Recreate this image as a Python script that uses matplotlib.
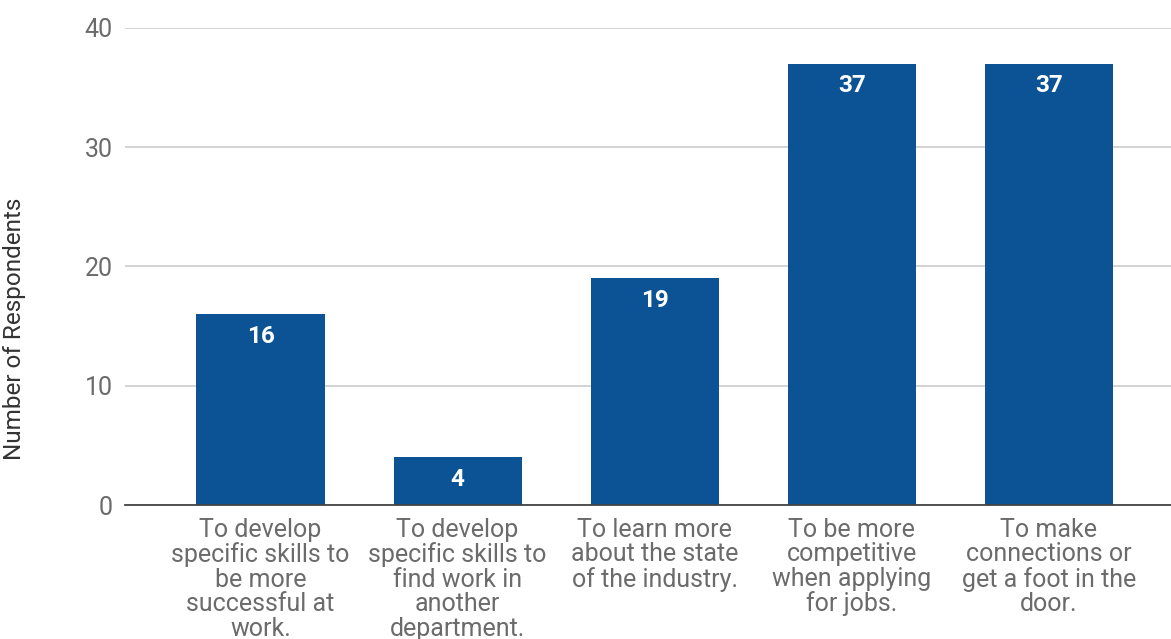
import matplotlib
matplotlib.use("Agg")
import matplotlib.pyplot as plt

# data
categories = [
    "To develop\nspecific skills to\nbe more\nsuccessful at\nwork.",
    "To develop\nspecific skills to\nfind work in\nanother\ndepartment.",
    "To learn more\nabout the state\nof the industry.",
    "To be more\ncompetitive\nwhen applying\nfor jobs.",
    "To make\nconnections or\nget a foot in the\ndoor.",
]
respondents = [16, 4, 19, 37, 37]
y_ticks = [0, 10, 20, 30, 40]

BAR_COLOR = "#0b5394"
TEXT_COLOR = "#6b6b6b"

plt.rcParams['font.family'] = ['Roboto', 'DejaVu Sans']

fig = plt.figure(figsize=(11.71, 6.39), dpi=100)
ax = fig.add_axes([0.1067, 0.2097, 0.8933, 0.7465])

x = list(range(len(categories)))
bars = ax.bar(x, respondents, width=0.65, color=BAR_COLOR, zorder=3)

for rect, val in zip(bars, respondents):
    ax.annotate(str(val), (rect.get_x() + rect.get_width() / 2, rect.get_height()),
                xytext=(0, -16), textcoords="offset points", ha="center", va="center",
                color="white", fontsize=17.5, fontweight="bold", zorder=4)

ax.set_xlim(-0.688, 4.62)
ax.set_ylim(0, 40)
ax.set_yticks(y_ticks)
ax.set_xticks(x)
ax.set_xticklabels(categories, fontsize=18, color=TEXT_COLOR, linespacing=1.03)
ax.tick_params(axis="y", labelsize=18, colors=TEXT_COLOR, length=0, pad=9)
ax.tick_params(axis="x", length=0, pad=9)

ax.grid(axis="y", color="#cccccc", linewidth=1.2, zorder=0)
for side in ["top", "right", "left"]:
    ax.spines[side].set_visible(False)
ax.spines["bottom"].set_color("#444444")
ax.spines["bottom"].set_linewidth(1.3)
ax.spines["bottom"].set_zorder(5)

ax.set_ylabel("Number of Respondents", fontsize=17.5, color="#333333")
ax.yaxis.set_label_coords(-0.095, 0.369)

fig.savefig("out.png", dpi=100)
